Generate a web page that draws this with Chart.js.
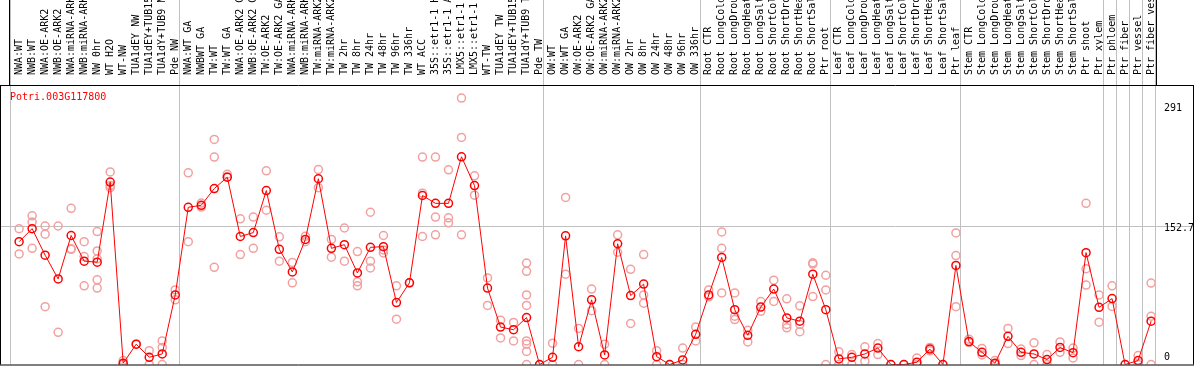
<!DOCTYPE html>
<html>
<head>
<meta charset="utf-8">
<script src="https://cdn.jsdelivr.net/npm/chart.js@4/dist/chart.umd.min.js"></script>
<style>
  body { margin: 0; background: #fff; }
  canvas { display: block; }
</style>
</head>
<body>
<canvas id="chart" width="1194" height="370"></canvas>
<script>
const geneName = "Potri.003G117800";

const samples = [
  "NWA:WT", "NWB:WT", "NWA:OE-ARK2", "NWB:OE-ARK2", "NWA:miRNA-ARK2", "NWB:miRNA-ARK2",
  "NW 0hr", "WT H2O", "WT-NW", "TUA1dEY NW", "TUA1dEY+TUB15 NW", "TUA1dY+TUB9 NW", "Pde NW",
  "NWA:WT GA", "NWBWT GA", "TW:WT", "TW:WT GA", "NWA:OE-ARK2 GA", "NWB:OE-ARK2 GA",
  "TW:OE-ARK2", "TW:OE-ARK2 GA", "NWA:miRNA-ARK2 GA", "NWB:miRNA-ARK2 GA", "TW:miRNA-ARK2",
  "TW:miRNA-ARK2 GA", "TW 2hr", "TW 8hr", "TW 24hr", "TW 48hr", "TW 96hr", "TW 336hr",
  "WT ACC", "35S::etr1-1 H2O", "35S::etr1-1 ACC", "LMX5::etr1-1 H2O", "LMX5::etr1-1 ACC",
  "WT-TW", "TUA1dEY TW", "TUA1dEY+TUB15 TW", "TUA1dY+TUB9 TW", "Pde TW",
  "OW:WT", "OW:WT GA", "OW:OE-ARK2", "OW:OE-ARK2 GA", "OW:miRNA-ARK2", "OW:miRNA-ARK2 GA",
  "OW 2hr", "OW 8hr", "OW 24hr", "OW 48hr", "OW 96hr", "OW 336hr",
  "Root CTR", "Root LongCold", "Root LongDrought", "Root LongHeat", "Root LongSalt",
  "Root ShortCold", "Root ShortDrought", "Root ShortHeat", "Root ShortSalt", "Ptr root",
  "Leaf CTR", "Leaf LongCold", "Leaf LongDrought", "Leaf LongHeat", "Leaf LongSalt",
  "Leaf ShortCold", "Leaf ShortDrought", "Leaf ShortHeat", "Leaf ShortSalt", "Ptr leaf",
  "Stem CTR", "Stem LongCold", "Stem LongDrought", "Stem LongHeat", "Stem LongSalt",
  "Stem ShortCold", "Stem ShortDrought", "Stem ShortHeat", "Stem ShortSalt", "Ptr shoot",
  "Ptr xylem", "Ptr phloem", "Ptr fiber", "Ptr vessel", "Ptr fiber vessel"
];

const meanValues = [
  134.1, 148.4, 119.4, 93.5, 140.9, 112.9, 111.8, 199.3, 1.4, 22.2, 7.9, 11.5, 76.0,
  171.7, 173.9, 192.2, 204.6, 139.8, 144.1, 190.0, 125.8, 101.1, 136.6, 202.9, 126.9,
  130.9, 100.0, 128.0, 128.7, 67.7, 89.2, 184.6, 176.0, 176.0, 226.9, 195.4, 83.5,
  40.9, 38.0, 51.3, 0,
  7.9, 140.5, 19.4, 70.6, 10.4, 131.9, 75.3, 87.8, 8.6, 0, 5.0, 33.0,
  76.0, 116.9, 59.9, 31.9, 62.7, 82.4, 50.9, 47.3, 98.6, 59.9,
  6.1, 7.9, 11.5, 18.0, 0, 0, 2.5, 16.8, 0, 108.2,
  25.0, 13.3, 1.4, 30.8, 13.3, 11.5, 5.4, 18.6, 12.9, 122.2, 62.4,
  72.0, 0, 4.3, 47.3
];

// one list of replicate values per sample
const replicateValues = [
  [148.4, 120.8], [162.4, 155.6, 126.9], [151.3, 142.3, 63.1], [151.3, 35.1],
  [170.6, 125.8, 126.3], [134.1, 117.9, 86.0], [145.2, 124.0, 115.4, 92.5, 83.5],
  [210.4, 195.4, 193.2], [4.3, 0], [22.2], [15.1, 0], [25.8, 18.6, 0], [81.4, 70.6],
  [209.4, 134.1], [176.3, 172.0], [245.9, 226.6, 106.1], [207.8, 205.0], [159.1, 120.1],
  [161.0, 126.9], [211.5, 168.5], [139.5, 112.9], [111.5, 89.2], [140.1, 134.1],
  [212.9, 193.2], [136.6, 117.2], [149.1, 112.9], [123.3, 90.3, 86.0],
  [166.3, 112.9, 105.4], [140.9, 125.1, 121.8], [86.0, 49.5], [89.2],
  [226.6, 187.1, 139.8], [226.6, 161.0, 141.6], [212.6, 160.2, 154.8], [291, 248.0, 141.6],
  [206.1, 184.9], [94.6, 64.5], [48.4, 29.0], [45.9, 25.8],
  [110.8, 101.8, 76.0, 64.5, 25.8, 22.3, 14.3, 0], [0],
  [23.3, 0], [182.5, 98.6], [39.4, 0], [82.4, 58.8], [22.2, 0], [141.6, 122.6],
  [104.0, 44.8], [120.1, 76.0, 67.0], [15.1, 0], [0], [18.0, 0], [40.9, 25.8],
  [81.4, 73.9], [144.8, 126.9, 78.2], [78.2, 52.7, 49.1], [37.3, 24.7], [68.8, 58.1],
  [92.1, 68.8], [71.7, 43.7, 40.1], [64.1, 43.7, 35.8], [111.1, 109.7, 74.2], [97.5, 81.4, 0],
  [14.0, 0], [10.8, 0], [19.4, 3.6], [22.9, 10.8], [0], [0], [7.2, 0], [18.6, 15.0], [0],
  [143.7, 119.0, 63.1],
  [27.6, 24.0], [17.6, 10.4], [4.3, 0], [39.4, 22.9], [16.8, 9.7], [23.7, 0], [10.8, 0],
  [24.7, 13.3], [18.0, 7.2], [176.0, 104.6, 86.8], [76.0, 46.2],
  [86.0, 63.4], [0], [9.7, 0], [88.9, 52.7, 0]
];

const yTickValues = [0, 152.7, 291];
// sample index where each group starts / ends
const groupBreaks = [0, 13, 41, 53, 63, 73, 84, 85, 86, 87, 88];

const MONO = "'DejaVu Sans Mono', monospace";
const SLOT_SHIFT = 0.7; // points sit a bit right of the slot centre

const meanPoints = meanValues.map((v, i) => ({ x: i, y: v }));
const repPoints = [];
replicateValues.forEach((list, i) => {
  list.forEach((v) => repPoints.push({ x: i, y: v }));
});

const framePlugin = {
  id: "frame",
  beforeDatasetsDraw(chart) {
    const { ctx, chartArea, scales } = chart;
    ctx.save();
    ctx.strokeStyle = "#c0c0c0";
    ctx.lineWidth = 1;
    groupBreaks.forEach((b) => {
      const px = Math.round(scales.x.getPixelForValue(b - SLOT_SHIFT)) + 0.5;
      ctx.beginPath();
      ctx.moveTo(px, 0);
      ctx.lineTo(px, chartArea.bottom);
      ctx.stroke();
    });
    const gy = Math.round(scales.y.getPixelForValue(yTickValues[1])) + 1.5;
    ctx.beginPath();
    ctx.moveTo(0, gy);
    ctx.lineTo(chart.width, gy);
    ctx.stroke();
    ctx.restore();
  },
  afterDraw(chart) {
    const { ctx, chartArea, scales } = chart;
    const left = Math.round(scales.x.getPixelForValue(-SLOT_SHIFT));
    const right = Math.round(scales.x.getPixelForValue(88 - SLOT_SHIFT));
    ctx.save();
    ctx.strokeStyle = "#000";
    ctx.lineWidth = 1;
    ctx.beginPath();
    // plot frame
    ctx.moveTo(0, chartArea.top + 0.5);
    ctx.lineTo(chart.width, chartArea.top + 0.5);
    ctx.moveTo(0, chartArea.bottom + 0.5);
    ctx.lineTo(chart.width, chartArea.bottom + 0.5);
    ctx.moveTo(0.5, chartArea.top);
    ctx.lineTo(0.5, chartArea.bottom);
    ctx.moveTo(chart.width - 0.5, chartArea.top);
    ctx.lineTo(chart.width - 0.5, chartArea.bottom);
    // label box sides
    ctx.moveTo(left - 0.5, 0);
    ctx.lineTo(left - 0.5, chartArea.top);
    ctx.moveTo(right + 1.5, 0);
    ctx.lineTo(right + 1.5, chartArea.top);
    ctx.stroke();

    ctx.font = "10px " + MONO;
    ctx.textBaseline = "middle";
    ctx.textAlign = "left";
    ctx.fillStyle = "#000";
    yTickValues.forEach((v) => {
      const py = scales.y.getPixelForValue(v) + 4;
      const ty = Math.min(Math.max(py, chartArea.top + 23), chartArea.bottom - 7.5);
      ctx.fillText(String(v), right + 9, ty);
    });

    ctx.fillStyle = "#ff0000";
    ctx.fillText(geneName, left, chartArea.top + 12);
    ctx.restore();
  }
};

new Chart(document.getElementById("chart"), {
  type: "line",
  data: {
    datasets: [
      {
        data: meanPoints,
        borderColor: "#ff0000",
        borderWidth: 1,
        pointRadius: 4,
        pointBorderWidth: 1.5,
        pointBorderColor: "#ff0000",
        pointBackgroundColor: "rgba(0,0,0,0)",
        tension: 0
      },
      {
        data: repPoints,
        showLine: false,
        pointRadius: 4,
        pointBorderWidth: 1.5,
        pointBorderColor: "#f2a0a0",
        pointBackgroundColor: "rgba(0,0,0,0)"
      }
    ]
  },
  options: {
    responsive: false,
    devicePixelRatio: 1,
    animation: false,
    layout: { padding: { left: 10, right: 39, top: 0, bottom: 1 } },
    plugins: { legend: { display: false }, tooltip: { enabled: false } },
    scales: {
      x: {
        type: "linear",
        position: "top",
        min: -SLOT_SHIFT,
        max: 88 - SLOT_SHIFT,
        grid: { display: false },
        border: { display: false },
        afterBuildTicks: (scale) => {
          scale.ticks = samples.map((_, i) => ({ value: i }));
        },
        afterFit: (scale) => {
          scale.height = 85;
        },
        ticks: {
          autoSkip: false,
          minRotation: 90,
          maxRotation: 90,
          padding: 2,
          labelOffset: 12,
          color: "#000",
          font: { family: MONO, size: 10 },
          callback: (value) => samples[value]
        }
      },
      y: {
        display: false,
        min: 0,
        max: 305.3
      }
    }
  },
  plugins: [framePlugin]
});
</script>
</body>
</html>
